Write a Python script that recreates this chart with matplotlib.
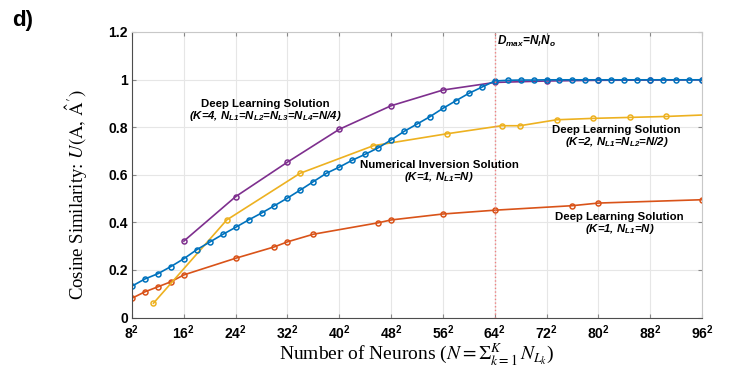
import numpy as np
import matplotlib
matplotlib.use("Agg")
import matplotlib.pyplot as plt

# number of neurons N for each curve and the cosine similarity reached
N_numeric = [64, 100, 144, 196, 256, 324, 400, 484, 576, 676, 784, 900, 1024,
             1156, 1296, 1444, 1600, 1764, 1936, 2116, 2304, 2500, 2704, 2916,
             3136, 3364, 3600, 3844, 4096, 4356, 4624, 4900, 5184, 5476, 5776,
             6084, 6400, 6724, 7056, 7396, 7744, 8100, 8464, 8836, 9216]
U_numeric = [0.132, 0.162, 0.184, 0.214, 0.247, 0.285, 0.317, 0.349, 0.379,
             0.410, 0.439, 0.470, 0.502, 0.536, 0.571, 0.606, 0.632, 0.661,
             0.686, 0.713, 0.746, 0.782, 0.813, 0.844, 0.879, 0.911, 0.942,
             0.968, 0.994, 0.997, 0.998, 0.998, 0.999, 0.999, 0.999, 0.999,
             0.999, 0.999, 0.999, 0.999, 0.999, 0.999, 0.999, 0.999, 0.999]

N_k1 = [64, 100, 144, 196, 256, 576, 900, 1024, 1296, 2116, 2304, 3136, 4096,
        5776, 6400, 9216]
U_k1 = [0.081, 0.108, 0.129, 0.150, 0.179, 0.249, 0.297, 0.318, 0.350, 0.398,
        0.410, 0.435, 0.451, 0.470, 0.481, 0.495]

N_k2 = [128, 512, 1152, 2048, 3200, 4232, 4608, 5408, 6272, 7200, 8192, 9216]
U_k2 = [0.060, 0.410, 0.606, 0.722, 0.772, 0.806, 0.806, 0.831, 0.837, 0.841,
        0.845, 0.851]

N_k4 = [256, 576, 1024, 1600, 2304, 3136, 4096, 5184, 6400, 7744, 9216]
U_k4 = [0.321, 0.508, 0.653, 0.791, 0.890, 0.956, 0.988, 0.994, 0.997, 0.998,
        0.999]

side_ticks = [8, 16, 24, 32, 40, 48, 56, 64, 72, 80, 88, 96]
y_ticks = [0, 0.2, 0.4, 0.6, 0.8, 1, 1.2]
y_ticklabels = ["0", "0.2", "0.4", "0.6", "0.8", "1", "1.2"]
D_max = 4096

blue = "#0072BD"
orange = "#D95319"
yellow = "#EDB120"
purple = "#7E2F8E"

plt.rcParams["mathtext.fontset"] = "custom"
plt.rcParams["mathtext.it"] = "Liberation Sans:italic:bold"
plt.rcParams["mathtext.rm"] = "Liberation Sans:italic:bold"
plt.rcParams["mathtext.bf"] = "Liberation Sans:bold"

fig = plt.figure(figsize=(7.32, 3.72), dpi=100)
ax = fig.add_axes([0.1803, 0.1465, 0.7787, 0.7675])
ax.set_xscale("function", functions=(np.sqrt, np.square))

style = dict(marker="o", ms=3.6, mfc="none", mew=1.1, lw=1.2)
ax.plot(N_k1, U_k1, color=orange, **style)
ax.plot(N_k2, U_k2, color=yellow, markevery=list(range(len(N_k2) - 1)), **style)
ax.plot(N_k4, U_k4, color=purple, **style)
ax.plot(N_numeric, U_numeric, color=blue, **style)

ax.axvline(D_max, color="#F08080", ls=":", lw=1.0)

ax.set_xlim(64, 9216)
ax.set_ylim(0, 1.2)
ax.set_xticks([s ** 2 for s in side_ticks])
ax.set_xticklabels([rf"$\mathbf{{{s}}}^{{\mathbf{{2}}}}$" for s in side_ticks])
ax.set_yticks(y_ticks)
ax.set_yticklabels(y_ticklabels)
for lab in ax.get_xticklabels() + ax.get_yticklabels():
    lab.set_fontfamily("Liberation Sans")
    lab.set_fontweight("bold")
    lab.set_fontsize(10)

ax.grid(True, color="#e6e6e6", lw=0.8)
ax.set_axisbelow(True)
ax.tick_params(direction="in", length=3, top=True, right=True,
               color="#888888", pad=3)
ax.tick_params(axis="x", pad=4)
for side in ["left", "bottom"]:
    ax.spines[side].set_color("#4d4d4d")
for side in ["top", "right"]:
    ax.spines[side].set_color("#c8c8c8")

ax.set_ylabel(r"Cosine Similarity: $U(\mathrm{A},\,\hat{\mathrm{A}}')$",
              family="Liberation Serif", fontsize=13.5, math_fontfamily="stix")
ax.yaxis.set_label_coords(-0.074, 0.43)
ax.set_xlabel(r"Number of Neurons ($N=\Sigma_{k=1}^{K}\,N_{L_k}$)",
              family="Liberation Serif", fontsize=14, math_fontfamily="stix",
              labelpad=0)


def label(x, y, first, second):
    ax.text(x, y, first, ha="center", va="bottom", fontsize=8.2,
            family="Liberation Sans", weight="bold")
    ax.text(x, y, second, ha="center", va="top", fontsize=8.2,
            family="Liberation Sans", weight="bold", style="italic")


label(28.6 ** 2, 0.876, "Deep Learning Solution",
      "(K=4, N$_{L1}$=N$_{L2}$=N$_{L3}$=N$_{L4}$=N/4)")
label(55.4 ** 2, 0.62, "Numerical Inversion Solution", "(K=1, N$_{L1}$=N)")
label(82.8 ** 2, 0.767, "Deep Learning Solution",
      "(K=2, N$_{L1}$=N$_{L2}$=N/2)")
label(83.3 ** 2, 0.401, "Deep Learning Solution", "(K=1, N$_{L1}$=N)")

ax.text(64.4 ** 2, 1.16, "D$_{max}$=N$_I$N$_o$", ha="left", va="center",
        fontsize=8.5, family="Liberation Sans", style="italic", weight="bold")

fig.text(0.016, 0.946, "d)", fontsize=16, weight="bold",
         family="Liberation Sans", va="center", ha="left")

fig.savefig("out.png", dpi=100)
